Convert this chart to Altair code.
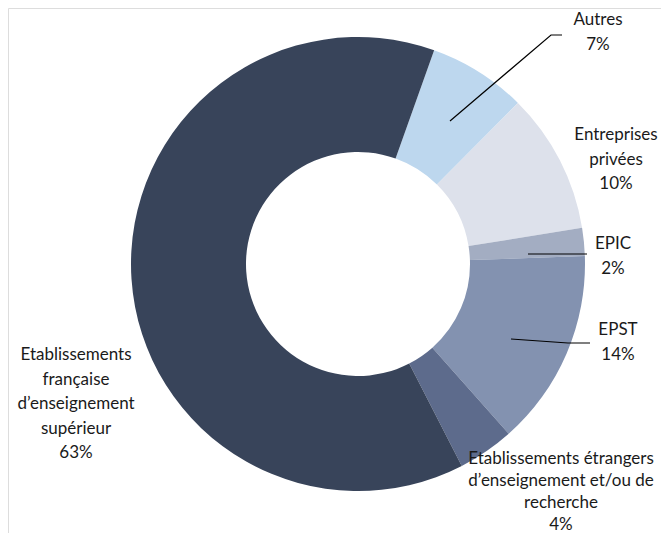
import math
import altair as alt
import pandas as pd

categories = ["Autres", "Entreprises privées", "EPIC", "EPST",
              "Etablissements étrangers", "Etablissements française"]
values = [7, 10, 2, 14, 4, 63]
colors = ["#BDD7EE", "#DDE1EB", "#A3ADC2", "#8392B0", "#5D6B8C", "#38445A"]
label_lines = [
    ["Autres", "7%"],
    ["Entreprises", "privées", "10%"],
    ["EPIC", "2%"],
    ["EPST", "14%"],
    ["Etablissements étrangers", "d\u2019enseignement et/ou de", "recherche", "4%"],
    ["Etablissements", "française", "d\u2019enseignement", "supérieur", "63%"],
]

# layout (pixels inside the plot area)
W, H = 653, 525
CX, CY = 350, 256
R_OUT, R_IN = 227, 112
START = math.radians(19.6)
label_pos = [(590, 12), (608, 127), (605, 236), (610, 322), (553, 451), (68, 347)]
label_lh = [24.5, 24.5, 24.5, 24.5, 22, 24.5]
leaders = [
    [(442, 113), (543, 27), (554, 27)],
    None,
    [(520, 246), (579, 246)],
    [(503, 331), (560, 335), (582, 335)],
    None,
    None,
]

df = pd.DataFrame({"cat": categories, "value": values, "idx": list(range(len(values)))})

arc = alt.Chart(df).mark_arc(innerRadius=R_IN, outerRadius=R_OUT, stroke=None).encode(
    theta=alt.Theta("value:Q", stack=True,
                    scale=alt.Scale(range=[START, START + 2 * math.pi])),
    order=alt.Order("idx:Q"),
    color=alt.Color("cat:N", scale=alt.Scale(domain=categories, range=colors), legend=None),
    x=alt.value(CX),
    y=alt.value(CY),
)

lab = pd.DataFrame({
    "txt": ["\n".join(l) for l in label_lines],
    "x": [p[0] for p in label_pos],
    "y": [p[1] for p in label_pos],
    "lh": label_lh,
})
text_layers = []
for lh in sorted(set(label_lh)):
    text_layers.append(
        alt.Chart(lab).transform_filter(alt.datum.lh == lh).mark_text(
            font="Lato", fontSize=17, lineBreak="\n", lineHeight=lh,
            align="center", baseline="middle", color="#1a1a1a"
        ).encode(
            x=alt.X("x:Q", scale=None),
            y=alt.Y("y:Q", scale=None),
            text="txt:N",
        )
    )

rows = []
for i, seg in enumerate(leaders):
    if seg:
        for j, (px, py) in enumerate(seg):
            rows.append({"g": i, "o": j, "x": px, "y": py})
ld = pd.DataFrame(rows)
lines = alt.Chart(ld).mark_line(color="black", strokeWidth=1.2).encode(
    x=alt.X("x:Q", scale=None),
    y=alt.Y("y:Q", scale=None),
    detail="g:N",
    order="o:Q",
)

chart = alt.layer(arc, lines, *text_layers).properties(
    width=W, height=H, padding=0, autosize="none"
).configure_view(stroke=None).configure(background="white")

chart.save("out.html", embed_options={"renderer": "svg", "actions": False})
